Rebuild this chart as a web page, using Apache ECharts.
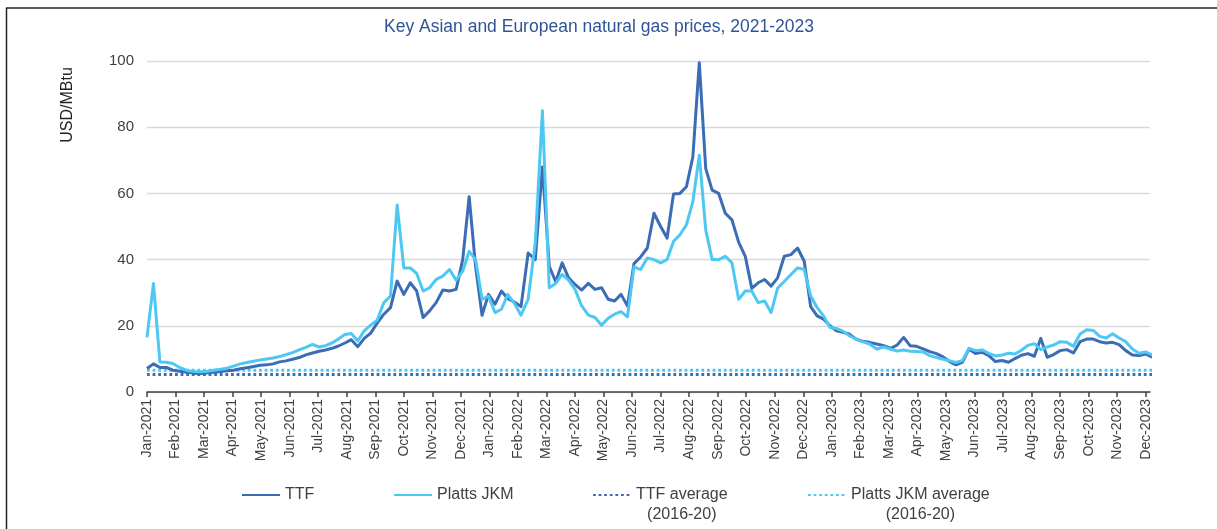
<!DOCTYPE html>
<html><head><meta charset="utf-8">
<script src="https://cdn.jsdelivr.net/npm/echarts@6/dist/echarts.min.js"></script>
<style>html,body{margin:0;padding:0;background:#fff}#c{width:1217px;height:529px}</style>
</head><body><div id="c"></div>
<script>
const monthLabels = ['Jan-2021','Feb-2021','Mar-2021','Apr-2021','May-2021','Jun-2021','Jul-2021','Aug-2021','Sep-2021','Oct-2021','Nov-2021','Dec-2021',
  'Jan-2022','Feb-2022','Mar-2022','Apr-2022','May-2022','Jun-2022','Jul-2022','Aug-2022','Sep-2022','Oct-2022','Nov-2022','Dec-2022',
  'Jan-2023','Feb-2023','Mar-2023','Apr-2023','May-2023','Jun-2023','Jul-2023','Aug-2023','Sep-2023','Oct-2023','Nov-2023','Dec-2023'];
const yTicks = [0, 20, 40, 60, 80, 100];
// weekly observations, starting 1 January 2021
const startDate = [2021, 0, 1];
const ttf = [7.1,8.5,7.4,7.4,6.6,6.3,6.0,5.7,5.6,5.8,6.0,6.2,6.4,6.6,7.0,7.3,7.7,8.1,8.2,8.5,
  9.1,9.4,9.9,10.4,11.2,11.8,12.3,12.7,13.2,13.9,14.8,15.8,13.7,16.2,17.8,20.8,23.5,25.5,33.5,29.5,
  33.0,30.5,22.5,24.5,27.0,30.8,30.5,31.0,40.0,59.0,37.8,23.2,29.5,26.5,30.5,28.2,27.2,25.8,42.0,40.0,
  68.0,38.0,33.3,39.0,34.5,32.5,30.8,32.8,31.0,31.5,28.0,27.5,29.5,26.0,38.8,40.8,43.5,54.0,50.0,46.5,
  59.8,60.0,62.0,71.0,99.5,67.5,61.0,60.0,54.0,52.0,45.3,41.0,31.3,33.0,34.0,32.0,34.5,41.0,41.5,43.5,
  39.5,25.8,23.0,22.0,20.0,18.5,18.0,17.5,16.0,15.3,15.0,14.5,14.0,13.2,14.2,16.5,14.0,13.8,13.0,12.2,
  11.6,10.6,9.2,8.2,9.0,13.0,11.6,12.0,11.0,9.2,9.5,9.0,10.1,11.1,11.6,10.8,16.2,10.5,11.3,12.5,
  12.8,11.8,15.2,16.0,16.0,15.2,14.8,15.0,14.3,12.5,11.2,11.0,11.5,10.5];
const jkm = [16.5,32.8,9.1,9.0,8.6,7.4,6.5,6.2,6.1,6.3,6.6,6.9,7.2,7.8,8.5,8.9,9.3,9.7,10.0,10.3,
  10.7,11.3,11.9,12.7,13.5,14.4,13.6,14.0,14.8,16.0,17.4,17.7,15.4,18.5,20.2,21.7,27.0,29.0,56.5,37.5,
  37.5,35.8,30.5,31.5,34.0,35.0,37.0,33.8,36.5,42.5,40.0,28.0,29.0,24.0,25.0,29.5,26.8,23.2,28.0,45.0,
  85.0,31.5,32.8,35.5,33.8,31.0,26.0,23.2,22.5,20.2,22.3,23.5,24.3,22.7,37.8,37.0,40.5,40.0,39.0,40.0,
  45.5,47.5,50.5,57.5,71.5,49.0,40.0,40.0,41.0,39.0,28.0,30.5,30.5,27.0,27.5,24.0,31.4,33.4,35.5,37.5,
  37.0,29.0,25.5,23.0,19.5,19.2,18.4,17.0,16.0,15.2,14.5,13.0,13.6,12.9,12.4,12.7,12.3,12.2,12.1,11.0,
  10.4,9.9,9.4,8.9,9.5,13.2,12.5,12.7,11.7,10.9,11.2,11.7,11.5,12.6,14.1,14.6,12.8,13.6,14.2,15.2,
  15.0,13.8,17.5,18.8,18.6,16.8,16.3,17.6,16.3,15.2,13.0,11.7,12.1,11.2];
const ttfAverage = 5.3;   // 2016-20
const jkmAverage = 6.6;   // 2016-20

const C_TTF = '#3A6DB5', C_JKM = '#4DC8F2';
const FONT = 'Liberation Sans, Arial, sans-serif';

function monthPos(i) {
  const d = new Date(Date.UTC(startDate[0], startDate[1], startDate[2] + 7 * i));
  const y = d.getUTCFullYear(), m = d.getUTCMonth(), day = d.getUTCDate();
  const dim = new Date(Date.UTC(y, m + 1, 0)).getUTCDate();
  return (y - 2021) * 12 + m + (day - 1) / dim;
}
const pair = arr => arr.map((v, i) => [monthPos(i), v]);
const monthIdx = monthLabels.map((_, i) => i);

const chart = echarts.init(document.getElementById('c'), null, { renderer: 'canvas' });
const legendBase = {
  top: 487, itemWidth: 38, itemHeight: 14, padding: 0, icon: 'inherit',
  itemStyle: { opacity: 0 },
  textStyle: { fontSize: 16, color: '#404040', fontFamily: FONT }
};
const avgLegendText = {
  fontSize: 16, color: '#404040', fontFamily: FONT, padding: [20, 0, 0, 0],
  rich: {
    a: { fontSize: 16, lineHeight: 20, color: '#404040', fontFamily: FONT },
    b: { fontSize: 16, lineHeight: 20, color: '#404040', fontFamily: FONT, align: 'center' }
  }
};
chart.setOption({
  animation: false,
  backgroundColor: '#fff',
  title: {
    text: 'Key Asian and European natural gas prices, 2021-2023',
    left: 384, top: 18, padding: 0,
    textStyle: { fontSize: 17.5, fontWeight: 'normal', color: '#2F5496', fontFamily: FONT }
  },
  grid: { left: 147, right: 67, top: 61, bottom: 137, containLabel: false },
  xAxis: {
    type: 'value', min: 0, max: 35.15, interval: 1,
    splitLine: { show: false },
    axisLine: { show: true, lineStyle: { color: '#404040', width: 1.5 } },
    axisTick: { show: true, length: 5, customValues: monthIdx, lineStyle: { color: '#404040', width: 1.5 } },
    axisLabel: {
      rotate: 90, fontSize: 14, color: '#404040', fontFamily: FONT, margin: 7,
      customValues: monthIdx,
      formatter: v => monthLabels[Math.round(v)] || ''
    }
  },
  yAxis: {
    type: 'value', min: 0, max: 100, interval: 20,
    axisLine: { show: false }, axisTick: { show: false },
    splitLine: { show: true, lineStyle: { color: '#d9d9d9', width: 1.3 } },
    axisLabel: { fontSize: 15, color: '#404040', fontFamily: FONT, margin: 13,
      formatter: v => yTicks.includes(v) ? String(v) : '' }
  },
  legend: [
    Object.assign({}, legendBase, { left: 241, data: ['TTF'] }),
    Object.assign({}, legendBase, { left: 393, data: ['Platts JKM'] }),
    Object.assign({}, legendBase, { left: 592, data: [{ name: 'TTF average', textStyle: avgLegendText }],
      formatter: n => '{a|' + n + '}\n{b|(2016-20)}' }),
    Object.assign({}, legendBase, { left: 807, data: [{ name: 'Platts JKM average', textStyle: avgLegendText }],
      formatter: n => '{a|' + n + '}\n{b|(2016-20)}' })
  ],
  series: [
    { name: 'TTF', type: 'line', data: pair(ttf), symbol: 'none', z: 4,
      lineStyle: { color: C_TTF, width: 3, join: 'round' }, itemStyle: { color: C_TTF } },
    { name: 'Platts JKM', type: 'line', data: pair(jkm), symbol: 'none', z: 5,
      lineStyle: { color: C_JKM, width: 3, join: 'round' }, itemStyle: { color: C_JKM } },
    { name: 'TTF average', type: 'line', data: pair(ttf.map(() => ttfAverage)), symbol: 'none', z: 3,
      lineStyle: { color: C_TTF, width: 3, type: [2.8, 2.8], cap: 'butt' }, itemStyle: { color: C_TTF } },
    { name: 'Platts JKM average', type: 'line', data: pair(jkm.map(() => jkmAverage)), symbol: 'none', z: 3,
      lineStyle: { color: C_JKM, width: 3, type: [2.8, 2.8], cap: 'butt' }, itemStyle: { color: C_JKM } }
  ],
  graphic: [
    { type: 'line', shape: { x1: 6, y1: 8, x2: 1217, y2: 8 }, style: { stroke: '#222', lineWidth: 1.5 }, silent: true },
    { type: 'line', shape: { x1: 6.5, y1: 8, x2: 6.5, y2: 529 }, style: { stroke: '#222', lineWidth: 1.5 }, silent: true },
    { type: 'text', x: 68, y: 105, rotation: Math.PI / 2, silent: true,
      style: { text: 'USD/MBtu', fontSize: 16, fill: '#222', fontFamily: FONT, align: 'center', verticalAlign: 'middle' } }
  ]
});
</script></body></html>
